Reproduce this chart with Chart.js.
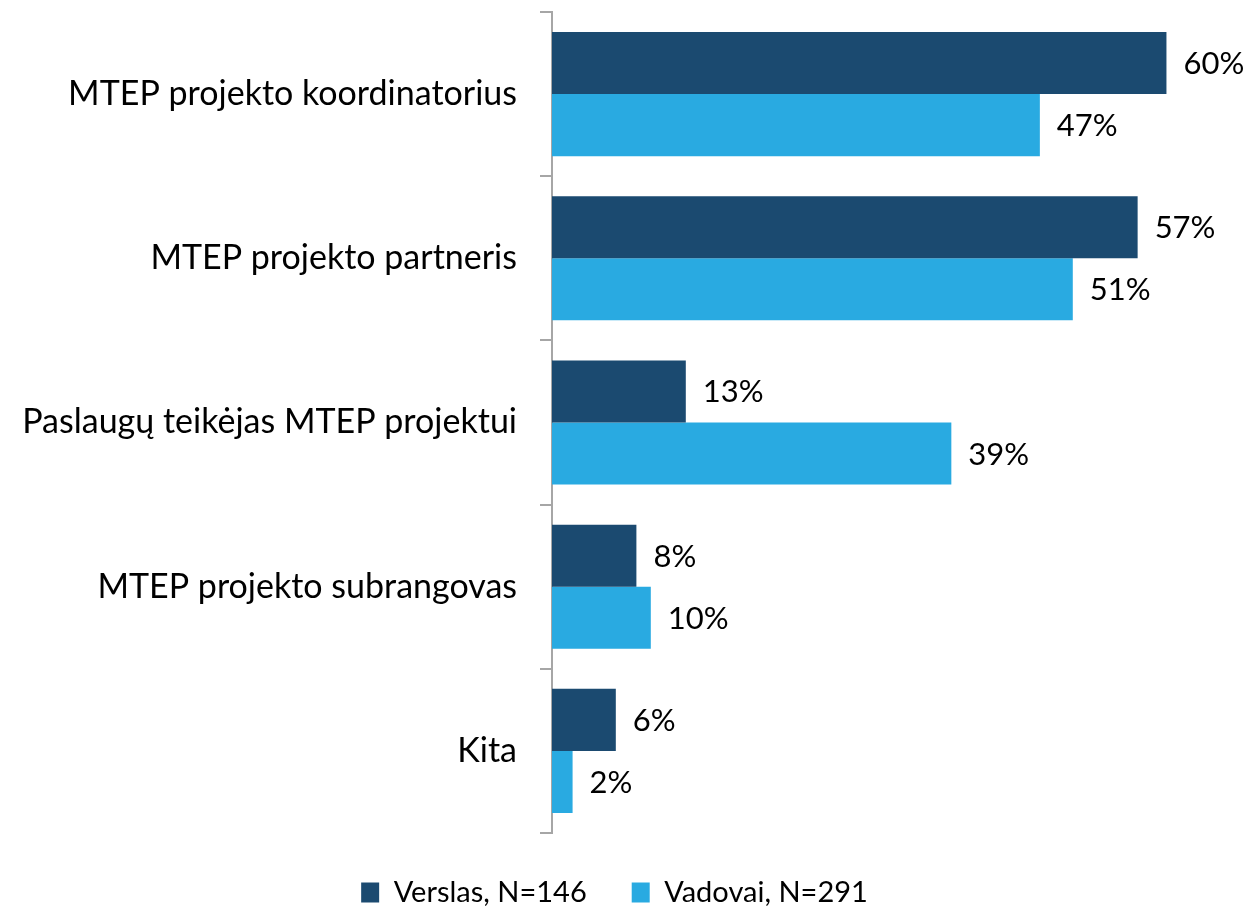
<!DOCTYPE html>
<html>
<head>
<meta charset="utf-8">
<script src="https://cdn.jsdelivr.net/npm/chart.js@4"></script>
<style>
  html, body { margin: 0; padding: 0; background: #fff; }
  #wrap { width: 1250px; height: 909px; }
</style>
</head>
<body>
<div id="wrap"><canvas id="grafica"></canvas></div>
<script>
const kategorijos = [
    'MTEP projekto koordinatorius',
    'MTEP projekto partneris',
    'Paslaugų teikėjas MTEP projektui',
    'MTEP projekto subrangovas',
    'Kita'
];
const verslas = [59.7, 56.9, 13.0, 8.2, 6.2];
const vadovai = [47.4, 50.6, 38.8, 9.6, 2.0];

const spalvaVerslas = '#1B4A70';
const spalvaVadovai = '#29AAE1';
const fontas = 'Lato, "Open Sans", sans-serif';

// procentai prie stulpeliu galu
const barLabels = {
    id: 'barLabels',
    afterDatasetsDraw(chart) {
        const ctx = chart.ctx;
        ctx.save();
        ctx.font = '31px ' + fontas;
        ctx.fillStyle = '#000';
        ctx.textAlign = 'left';
        ctx.textBaseline = 'middle';
        chart.data.datasets.forEach((ds, i) => {
            chart.getDatasetMeta(i).data.forEach((bar, j) => {
                ctx.fillText(Math.round(ds.data[j]) + '%', bar.x + 17, bar.y + 1);
            });
        });
        ctx.restore();
    }
};

const $grafica = document.querySelector('#grafica');
new Chart($grafica, {
    type: 'bar',
    data: {
        labels: kategorijos,
        datasets: [{
                label: 'Verslas, N=146',
                data: verslas,
                backgroundColor: spalvaVerslas,
                borderWidth: 0,
                categoryPercentage: 0.756,
                barPercentage: 1.0
            }, {
                label: 'Vadovai, N=291',
                data: vadovai,
                backgroundColor: spalvaVadovai,
                borderWidth: 0,
                categoryPercentage: 0.756,
                barPercentage: 1.0
            }]
    },
    options: {
        indexAxis: 'y',
        responsive: true,
        maintainAspectRatio: false,
        animation: false,
        layout: {
            padding: { top: 12, left: 8, right: 29, bottom: -8 }
        },
        scales: {
            x: {
                display: false,
                min: 0,
                max: 65
            },
            y: {
                afterFit(scale) {
                    scale.width = 544;
                    scale.paddingTop = 0;
                    scale.paddingBottom = 0;
                },
                grid: {
                    display: true,
                    drawOnChartArea: false,
                    drawTicks: true,
                    tickLength: 12,
                    color: '#a6a6a6',
                    lineWidth: 2
                },
                border: { display: true, color: '#a6a6a6', width: 2 },
                ticks: {
                    padding: 23,
                    color: '#000',
                    font: { family: fontas, size: 34 }
                }
            }
        },
        plugins: {
            tooltip: { enabled: false },
            legend: {
                position: 'bottom',
                labels: {
                    boxWidth: 18,
                    boxHeight: 20,
                    padding: 45,
                    color: '#000',
                    font: { family: fontas, size: 29 }
                }
            }
        }
    },
    plugins: [barLabels]
});
</script>
</body>
</html>
